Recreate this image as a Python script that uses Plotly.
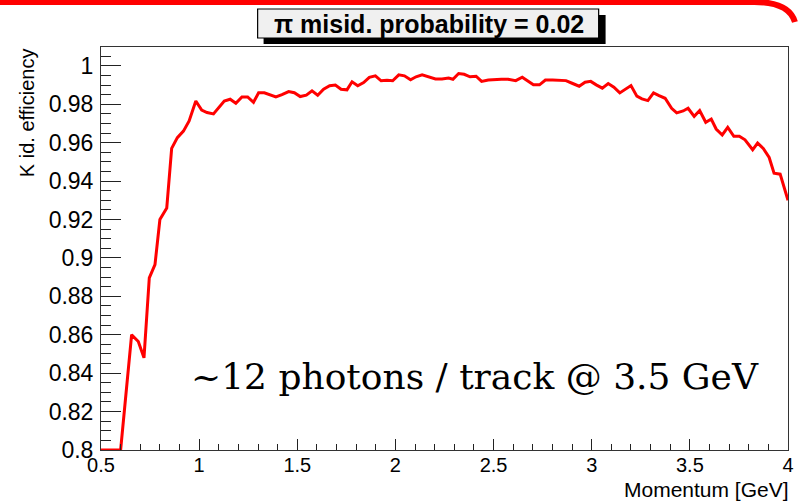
import plotly.graph_objects as go

momentum = [0.5, 0.6, 0.656, 0.69, 0.719, 0.746, 0.775, 0.80, 0.835, 0.86, 0.889, 0.92, 0.949, 0.983,
            1.013, 1.04, 1.073, 1.099, 1.128, 1.158, 1.187, 1.218, 1.247, 1.277, 1.303, 1.332, 1.362,
            1.391, 1.422, 1.456, 1.485, 1.515, 1.546, 1.575, 1.604, 1.634, 1.665, 1.694, 1.723, 1.753,
            1.779, 1.808, 1.838, 1.867, 1.898, 1.927, 1.957, 1.986, 2.017, 2.046, 2.077, 2.105, 2.136,
            2.165, 2.204, 2.237, 2.271, 2.293, 2.322, 2.350, 2.380, 2.411, 2.439, 2.473, 2.507, 2.540,
            2.574, 2.613, 2.646, 2.675, 2.703, 2.734, 2.764, 2.801, 2.835, 2.869, 2.903, 2.936, 2.966,
            2.995, 3.023, 3.054, 3.084, 3.113, 3.143, 3.172, 3.200, 3.230, 3.256, 3.286, 3.315, 3.343,
            3.374, 3.407, 3.433, 3.466, 3.491, 3.522, 3.550, 3.581, 3.609, 3.634, 3.665, 3.693, 3.724,
            3.752, 3.781, 3.820, 3.845, 3.874, 3.904, 3.929, 3.960, 4.0]

efficiency = [0.8, 0.8, 0.86, 0.8565, 0.848, 0.8896, 0.8965, 0.92, 0.926, 0.957, 0.9626, 0.966, 0.9713,
              0.9817, 0.977, 0.9757, 0.975, 0.9783, 0.9817, 0.9826, 0.9805, 0.9838, 0.9838, 0.981,
              0.986, 0.986, 0.9847, 0.9838, 0.985, 0.9866, 0.986, 0.984, 0.9847, 0.987, 0.9847, 0.9878,
              0.9896, 0.99, 0.9878, 0.9875, 0.9917, 0.9896, 0.9913, 0.994, 0.9948, 0.9922, 0.9925,
              0.9922, 0.9953, 0.9948, 0.9927, 0.9943, 0.9953, 0.9943,
              0.9932, 0.9932, 0.9936, 0.993, 0.996, 0.9956, 0.9943, 0.9946, 0.9919, 0.9926,
              0.993, 0.993, 0.993, 0.9923, 0.9941, 0.9919, 0.9901, 0.9901, 0.9926, 0.9926,
              0.9926, 0.9923, 0.9908, 0.9894, 0.9915, 0.9919, 0.9901, 0.9884, 0.9908, 0.9889,
              0.9859, 0.988, 0.9897, 0.9842, 0.9828, 0.9819, 0.9859, 0.9845, 0.9831, 0.9779,
              0.9755, 0.9765, 0.9779, 0.9737, 0.9767, 0.9706, 0.9723, 0.9671, 0.964, 0.968,
              0.9633, 0.9633, 0.9615, 0.9563, 0.9598, 0.957, 0.9523, 0.9441, 0.9436, 0.93]

x_ticks = [0.5, 1, 1.5, 2, 2.5, 3, 3.5, 4]
x_tick_text = ["0.5", "1", "1.5", "2", "2.5", "3", "3.5", "4"]
y_ticks = [0.8, 0.82, 0.84, 0.86, 0.88, 0.9, 0.92, 0.94, 0.96, 0.98, 1.0]
y_tick_text = ["0.8", "0.82", "0.84", "0.86", "0.88", "0.9", "0.92", "0.94", "0.96", "0.98", "1"]

title_text = "π misid. probability = 0.02"
note_text = "~12 photons / track @ 3.5 GeV"
x_title = "Momentum [GeV]"
y_title = "K id. efficiency"

W, H = 799, 502
L, R, T, B = 101, 794, 47, 450


def px(x):
    return (x - L) / (R - L)


def py(y):
    return (B - y) / (B - T)


fig = go.Figure()
fig.add_trace(go.Scatter(x=momentum, y=efficiency, mode="lines",
                         line=dict(color="#ff0000", width=3), cliponaxis=False,
                         showlegend=False, hoverinfo="skip"))

sans = "Liberation Sans, Arial, sans-serif"

fig.update_layout(
    width=W, height=H,
    margin=dict(l=L, r=W - R, t=T, b=H - B),
    paper_bgcolor="white", plot_bgcolor="white",
    xaxis=dict(range=[0.5, 4.0], tickvals=x_ticks, ticktext=x_tick_text,
               ticks="inside", ticklen=11, tickwidth=1, tickcolor="#222",
               minor=dict(ticks="inside", ticklen=6, dtick=0.1, tick0=0.5, tickcolor="#222"),
               showline=True, linecolor="#333", linewidth=1, mirror=True,
               showgrid=False, zeroline=False, ticklabeloverflow="allow",
               tickfont=dict(family=sans, size=20, color="black"), ticklabelstandoff=-3),
    yaxis=dict(range=[0.8, 1.0098], tickvals=y_ticks, ticktext=y_tick_text,
               ticks="inside", ticklen=20, tickwidth=1, tickcolor="#222",
               minor=dict(ticks="inside", ticklen=10, dtick=0.005, tick0=0.8, tickcolor="#222"),
               showline=True, linecolor="#333", linewidth=1, mirror=True,
               showgrid=False, zeroline=False, ticklabeloverflow="allow",
               tickfont=dict(family=sans, size=23, color="black"), ticklabelstandoff=2),
)

shapes = [
    # shadow of title box
    dict(type="rect", xref="paper", yref="paper", x0=px(265), x1=px(610), y0=py(15), y1=py(44),
         fillcolor="black", line=dict(width=0), layer="above"),
    # title box
    dict(type="rect", xref="paper", yref="paper", x0=px(259), x1=px(603), y0=py(9), y1=py(38),
         fillcolor="#f0f0f0", line=dict(color="black", width=1.2), layer="above"),
    # red slide border at top
    dict(type="path", xref="paper", yref="paper",
         path=f"M {px(-5)} {py(2)} L {px(760)} {py(2)} Q {px(795)} {py(2)} {px(801)} {py(22)}",
         line=dict(color="#ff0000", width=6), layer="above"),
]
fig.update_layout(shapes=shapes)

fig.add_annotation(xref="paper", yref="paper", x=px(432), y=py(24), text=title_text,
                   showarrow=False, xanchor="center", yanchor="middle",
                   font=dict(family=sans, size=25, color="black", weight="bold"))
fig.add_annotation(xref="paper", yref="paper", x=px(478), y=py(376), text=note_text,
                   showarrow=False, xanchor="center", yanchor="middle",
                   font=dict(family="DejaVu Serif, serif", size=36, color="black"))
fig.add_annotation(xref="paper", yref="paper", x=px(796), y=py(502), text=x_title,
                   showarrow=False, xanchor="right", yanchor="bottom", borderpad=0,
                   font=dict(family=sans, size=21, color="black"))
fig.add_annotation(xref="paper", yref="paper", x=px(26), y=py(46), text=y_title,
                   showarrow=False, xanchor="center", yanchor="top", textangle=-90,
                   font=dict(family=sans, size=20, color="black"))

fig.write_html("out.html")
